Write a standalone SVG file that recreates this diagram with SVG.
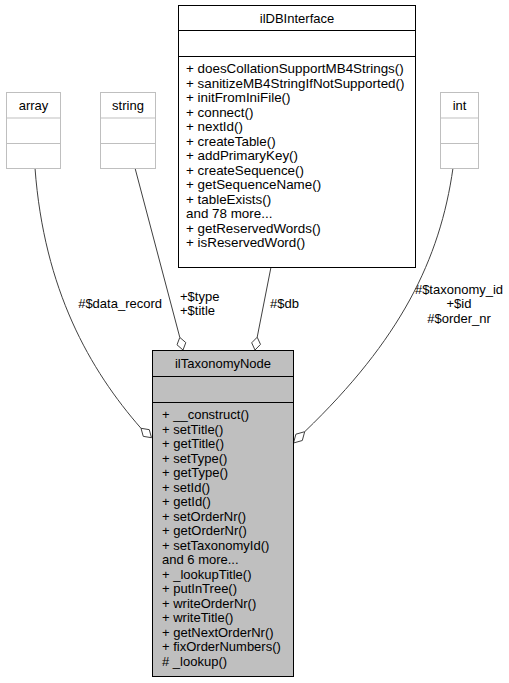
<svg xmlns="http://www.w3.org/2000/svg" width="509" height="683" viewBox="0 0 509 683">
<style>
text{font-family:"Liberation Sans",Arial,sans-serif;font-size:13px;fill:#000}
.c{text-anchor:middle}
.e{text-anchor:end}
.m{font-size:13.4px}
.gray{fill:#fff;stroke:#bfbfbf;stroke-width:1}
.blk{fill:#fff;stroke:#000;stroke-width:1}
.main{fill:#bfbfbf;stroke:#000;stroke-width:1}
.edge{fill:none;stroke:#404040;stroke-width:1}
.dia{fill:#fff;stroke:#404040;stroke-width:1}
</style>
<rect width="509" height="683" fill="#fff"/>
<g id="connectors">
<path class="edge" d="M35,168 C44,290 90,370 141,428.3"/>
<polygon class="dia" points="151.5,437.7 143.25,436.35 141,428.3 149.25,429.65"/>
<path class="edge" d="M135,168 L179.8,337.4"/>
<polygon class="dia" points="183,350 177,344.8 179.8,337.4 185.8,342.6"/>
<path class="edge" d="M271,267 L257.2,337.2"/>
<polygon class="dia" points="255,350 251.7,342.8 257.2,337.2 260.5,344.4"/>
<path class="edge" d="M453,168 C440,260 400,340 304.7,431.7"/>
<polygon class="dia" points="293.5,443 295.9,434.2 304.7,431.7 302.3,440.5"/>
<text class="e" x="162" y="307.5">#$data_record</text>
<text x="180" y="301">+$type</text>
<text x="180" y="315">+$title</text>
<text x="270" y="308">#$db</text>
<text class="c" x="459" y="294">#$taxonomy_id</text>
<text class="c" x="459" y="308">+$id</text>
<text class="c" x="459" y="323">#$order_nr</text>
</g>
<g id="array">
<rect class="gray" x="6.5" y="92.5" width="54" height="76"/>
<line class="gray" x1="6.5" y1="118" x2="60.5" y2="118"/>
<line class="gray" x1="6.5" y1="143.5" x2="60.5" y2="143.5"/>
<text class="c" x="33.5" y="110">array</text>
</g>
<g id="string">
<rect class="gray" x="100.5" y="92.5" width="55" height="76"/>
<line class="gray" x1="100.5" y1="118" x2="155.5" y2="118"/>
<line class="gray" x1="100.5" y1="143.5" x2="155.5" y2="143.5"/>
<text class="c" x="128" y="110">string</text>
</g>
<g id="int">
<rect class="gray" x="440.5" y="92.5" width="38" height="76"/>
<line class="gray" x1="440.5" y1="118" x2="478.5" y2="118"/>
<line class="gray" x1="440.5" y1="143.5" x2="478.5" y2="143.5"/>
<text class="c" x="459.5" y="110">int</text>
</g>
<g id="ilDBInterface">
<rect class="blk" x="178.5" y="5.5" width="237" height="262"/>
<line class="blk" x1="178.5" y1="30.5" x2="415.5" y2="30.5"/>
<line class="blk" x1="178.5" y1="56.5" x2="415.5" y2="56.5"/>
<text class="c" x="297" y="23">ilDBInterface</text>
<text class="m" x="186" y="73">+ doesCollationSupportMB4Strings()</text>
<text class="m" x="186" y="87.5">+ sanitizeMB4StringIfNotSupported()</text>
<text class="m" x="186" y="102">+ initFromIniFile()</text>
<text class="m" x="186" y="116.5">+ connect()</text>
<text class="m" x="186" y="131">+ nextId()</text>
<text class="m" x="186" y="145.5">+ createTable()</text>
<text class="m" x="186" y="160">+ addPrimaryKey()</text>
<text class="m" x="186" y="174.5">+ createSequence()</text>
<text class="m" x="186" y="189">+ getSequenceName()</text>
<text class="m" x="186" y="203.5">+ tableExists()</text>
<text class="m" x="186" y="218">and 78 more...</text>
<text class="m" x="186" y="232.5">+ getReservedWords()</text>
<text class="m" x="186" y="247">+ isReservedWord()</text>
</g>
<g id="ilTaxonomyNode">
<rect class="main" x="152.5" y="350.5" width="141" height="326"/>
<line class="blk" x1="152.5" y1="376.5" x2="293.5" y2="376.5"/>
<line class="blk" x1="152.5" y1="402.5" x2="293.5" y2="402.5"/>
<text class="c" x="223" y="368">ilTaxonomyNode</text>
<text x="162" y="419">+ __construct()</text>
<text x="162" y="433.5">+ setTitle()</text>
<text x="162" y="448">+ getTitle()</text>
<text x="162" y="462.5">+ setType()</text>
<text x="162" y="477">+ getType()</text>
<text x="162" y="491.5">+ setId()</text>
<text x="162" y="506">+ getId()</text>
<text x="162" y="520.5">+ setOrderNr()</text>
<text x="162" y="535">+ getOrderNr()</text>
<text x="162" y="549.5">+ setTaxonomyId()</text>
<text x="162" y="564">and 6 more...</text>
<text x="162" y="578.5">+ _lookupTitle()</text>
<text x="162" y="593">+ putInTree()</text>
<text x="162" y="607.5">+ writeOrderNr()</text>
<text x="162" y="622">+ writeTitle()</text>
<text x="162" y="636.5">+ getNextOrderNr()</text>
<text x="162" y="651">+ fixOrderNumbers()</text>
<text x="162" y="665.5"># _lookup()</text>
</g>
</svg>
